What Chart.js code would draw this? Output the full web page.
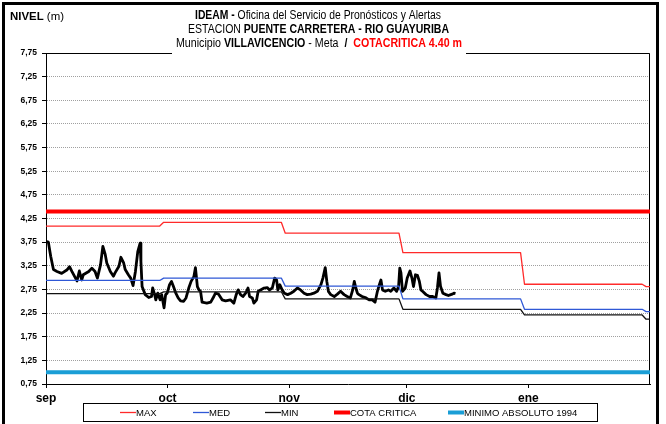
<!DOCTYPE html>
<html>
<head>
<meta charset="utf-8">
<script src="https://cdn.jsdelivr.net/npm/chart.js@4.4.1/dist/chart.umd.min.js"></script>
<style>
  html, body { margin: 0; padding: 0; background: #fff; }
  canvas { display: block; }
</style>
</head>
<body>
<canvas id="nivel" width="666" height="424"></canvas>
<script>
// eje x en dias contados desde el 1 de septiembre
const mesLabels = ['sep', 'oct', 'nov', 'dic', 'ene'];
const mesTicks = [0, 31, 62, 92, 123];
const diaFin = 154;

// eje y (m)
const nivelTicks = [0.75, 1.25, 1.75, 2.25, 2.75, 3.25, 3.75, 4.25, 4.75, 5.25, 5.75, 6.25, 6.75, 7.25, 7.75];

// valores historicos mensuales (sep..feb), cada uno vale desde mesInicio
const mesInicio = [0, 30, 61, 91, 122, 153];
const nivelMax = [4.09, 4.17, 3.94, 3.53, 2.86, 2.81];
const nivelMed = [2.94, 2.99, 2.82, 2.55, 2.33, 2.28];
const nivelMin = [2.66, 2.70, 2.55, 2.33, 2.21, 2.12];
const cotaCritica = 4.40;
const minimoAbsoluto = 1.00;

// lecturas de nivel [dia, m]
const lecturas = [
  [0.2, 3.76], [0.6, 3.75], [1.2, 3.45], [1.9, 3.17], [2.8, 3.13], [4.0, 3.09], [5.3, 3.16], [6.0, 3.23],
  [6.6, 3.13], [7.9, 2.93], [8.5, 3.14], [9.1, 2.95], [9.5, 3.06], [10.9, 3.13], [11.7, 3.20], [12.5, 3.13],
  [13.1, 2.99], [13.9, 3.27], [14.5, 3.66], [15.1, 3.49], [15.5, 3.31], [16.4, 3.13], [17.2, 3.03], [17.6, 3.10],
  [18.6, 3.24], [19.1, 3.43], [19.8, 3.31], [20.2, 3.17], [21.0, 3.06], [21.6, 2.99], [22.2, 2.83], [22.8, 3.13],
  [23.4, 3.55], [24.0, 3.73], [24.2, 3.34], [24.5, 2.81], [25.3, 2.64], [26.2, 2.58], [26.9, 2.60], [27.2, 2.78],
  [27.7, 2.64], [28.0, 2.53], [28.5, 2.67], [29.1, 2.53], [29.5, 2.64], [30.1, 2.36], [30.5, 2.64], [30.9, 2.67],
  [31.5, 2.85], [32.0, 2.92], [32.5, 2.81], [33.1, 2.67], [33.7, 2.57], [34.3, 2.51], [35.1, 2.50], [35.7, 2.57],
  [36.4, 2.78], [37.0, 2.92], [37.7, 3.02], [38.1, 3.21], [38.6, 2.81], [39.0, 2.74], [39.4, 2.71], [39.8, 2.48],
  [41.0, 2.46], [42.0, 2.48], [42.8, 2.60], [43.2, 2.67], [44.0, 2.65], [44.9, 2.53], [45.8, 2.51], [47.0, 2.53],
  [47.9, 2.46], [48.5, 2.64], [49.0, 2.74], [49.6, 2.64], [50.2, 2.60], [50.9, 2.67], [51.5, 2.78], [51.9, 2.60],
  [52.6, 2.57], [53.0, 2.46], [53.7, 2.53], [54.1, 2.71], [54.7, 2.74], [55.6, 2.78], [56.4, 2.79], [57.0, 2.74],
  [57.7, 2.78], [58.3, 2.99], [58.8, 2.95], [59.1, 2.74], [59.6, 2.85], [60.2, 2.74], [60.8, 2.67], [61.6, 2.64],
  [62.4, 2.67], [63.2, 2.71], [64.1, 2.78], [64.9, 2.74], [65.8, 2.67], [66.6, 2.64], [67.5, 2.65], [68.3, 2.67],
  [69.2, 2.71], [70.1, 2.85], [70.6, 2.99], [71.2, 3.21], [71.6, 2.92], [72.0, 2.71], [72.6, 2.64], [73.5, 2.60],
  [74.3, 2.65], [75.1, 2.71], [76.0, 2.64], [76.8, 2.60], [77.6, 2.57], [78.2, 2.74], [78.6, 2.92], [79.0, 2.78],
  [79.4, 2.67], [79.8, 2.64], [80.6, 2.60], [81.6, 2.57], [82.4, 2.53], [83.2, 2.53], [83.9, 2.48], [84.5, 2.71],
  [85.0, 2.85], [85.4, 2.95], [85.8, 2.74], [86.5, 2.71], [87.3, 2.74], [87.9, 2.71], [88.7, 2.78], [89.4, 2.71],
  [89.9, 2.81], [90.2, 3.20], [90.5, 3.10], [90.9, 2.71], [91.6, 2.78], [92.1, 2.99], [92.8, 3.14], [93.3, 2.99],
  [93.7, 2.81], [94.2, 3.06], [94.7, 3.05], [95.2, 2.92], [95.6, 2.74], [96.0, 2.71], [96.9, 2.64], [97.8, 2.60],
  [98.6, 2.60], [99.4, 2.57], [99.8, 2.78], [100.2, 3.10], [100.6, 2.81], [101.2, 2.67], [102.0, 2.64], [102.6, 2.62],
  [103.2, 2.64], [103.6, 2.65], [104.0, 2.67], [104.4, 2.66]
];

const FUENTE = "'Liberation Sans', Arial, sans-serif";
const ANGOSTA = "'Liberation Sans Narrow', 'Arial Narrow', 'Liberation Sans', Arial, sans-serif";

// escalones: el valor del mes se mantiene hasta el dia anterior al mes siguiente
function escalones(vals) {
  const pts = [];
  vals.forEach((v, i) => {
    const fin = i < vals.length - 1 ? mesInicio[i + 1] - 1 : diaFin;
    pts.push({ x: mesInicio[i], y: v }, { x: fin, y: v });
  });
  return pts;
}

function constante(v) {
  return [{ x: 0, y: v }, { x: diaFin, y: v }];
}

function serie(label, data, color, ancho) {
  return { label, data, borderColor: color, backgroundColor: color, borderWidth: ancho,
           pointRadius: 0, tension: 0, fill: false };
}

// texto con tramos en negrita o color, ajustado a un ancho fijo
function lineaTexto(ctx, partes, x0, cy, ancho, size) {
  ctx.save();
  let total = 0;
  partes.forEach(p => {
    ctx.font = (p.b ? 'bold ' : '') + size + 'px ' + ANGOSTA;
    p.w = ctx.measureText(p.t).width;
    total += p.w;
  });
  ctx.translate(x0, cy);
  ctx.scale(ancho / total, 1);
  ctx.textBaseline = 'middle';
  ctx.textAlign = 'left';
  let x = 0;
  partes.forEach(p => {
    ctx.font = (p.b ? 'bold ' : '') + size + 'px ' + ANGOSTA;
    ctx.fillStyle = p.c || '#000';
    ctx.fillText(p.t, x, 0);
    x += p.w;
  });
  ctx.restore();
}

const marco = {
  id: 'marco',
  beforeDatasetsDraw(chart) {
    const { ctx, chartArea: a } = chart;
    ctx.save();
    ctx.strokeStyle = '#000';
    ctx.lineWidth = 1;
    ctx.beginPath();
    ctx.moveTo(a.left, a.top + 0.5);
    ctx.lineTo(a.right - 0.5, a.top + 0.5);
    ctx.lineTo(a.right - 0.5, a.bottom);
    ctx.stroke();
    ctx.restore();
  },
  afterDraw(chart) {
    const ctx = chart.ctx;
    ctx.save();
    // borde exterior
    ctx.fillStyle = '#000';
    ctx.fillRect(2, 2, 3, 422);
    ctx.fillRect(2, 2, 657, 3);
    ctx.fillRect(656, 2, 3, 422);

    // titulo
    ctx.fillStyle = '#fff';
    ctx.fillRect(172, 36, 294, 20);
    lineaTexto(ctx, [{ t: 'NIVEL', b: true }, { t: ' (m)' }], 10, 17, 54, 10);
    lineaTexto(ctx, [{ t: 'IDEAM -', b: true }, { t: ' Oficina del Servicio de Pronósticos y Alertas' }], 195, 16, 246, 12);
    lineaTexto(ctx, [{ t: 'ESTACION ' }, { t: 'PUENTE CARRETERA - RIO GUAYURIBA', b: true }], 188, 29.5, 261, 12);
    lineaTexto(ctx, [{ t: 'Municipio ' }, { t: 'VILLAVICENCIO', b: true }, { t: ' - Meta  ' },
                     { t: '/  ', b: true }, { t: 'COTACRITICA 4.40 m', b: true, c: '#ff0000' }], 176, 44, 286, 12);

    // leyenda
    ctx.strokeStyle = '#000';
    ctx.lineWidth = 1;
    ctx.strokeRect(83.5, 403.5, 514, 18);
    const pos = [
      { ds: 2, x: 120 }, { ds: 3, x: 193 }, { ds: 4, x: 265 }, { ds: 1, x: 334 }, { ds: 0, x: 448 }
    ];
    pos.forEach(p => {
      const d = chart.data.datasets[p.ds];
      ctx.strokeStyle = d.borderColor;
      ctx.lineWidth = d.borderWidth;
      ctx.beginPath();
      ctx.moveTo(p.x, 412.5);
      ctx.lineTo(p.x + 16, 412.5);
      ctx.stroke();
      ctx.fillStyle = '#000';
      ctx.font = '9.5px ' + ANGOSTA;
      ctx.textBaseline = 'middle';
      ctx.fillText(d.label, p.x + 16, 413);
    });
    ctx.restore();
  }
};

new Chart(document.getElementById('nivel'), {
  type: 'line',
  data: {
    datasets: [
      serie('MINIMO ABSOLUTO 1994', constante(minimoAbsoluto), '#1a9ed6', 4),
      serie('COTA CRITICA', constante(cotaCritica), '#ff0000', 4),
      serie('MAX', escalones(nivelMax), '#ff2a2a', 1.3),
      serie('MED', escalones(nivelMed), '#2f58d6', 1.3),
      serie('MIN', escalones(nivelMin), '#111111', 1.3),
      serie('NIVEL', lecturas.map(([d, v]) => ({ x: d, y: v })), '#000000', 2.8)
    ]
  },
  options: {
    responsive: false,
    devicePixelRatio: 1,
    animation: false,
    layout: { padding: { left: 0, top: 53, right: 16, bottom: 0 } },
    plugins: { legend: { display: false }, title: { display: false }, tooltip: { enabled: false } },
    elements: { line: { borderJoinStyle: 'round', borderCapStyle: 'butt' } },
    scales: {
      x: {
        type: 'linear', min: 0, max: diaFin,
        afterBuildTicks: s => { s.ticks = mesTicks.map(v => ({ value: v })); },
        afterFit: s => { s.height = 40; },
        ticks: {
          callback: v => mesLabels[mesTicks.indexOf(v)],
          font: { family: FUENTE, size: 12, weight: 'bold' }, color: '#000',
          maxRotation: 0, autoSkip: false, padding: 3
        },
        grid: { drawOnChartArea: false, tickLength: 4, tickColor: '#000' },
        border: { color: '#000', width: 1 }
      },
      y: {
        min: 0.75, max: 7.75,
        afterBuildTicks: s => { s.ticks = nivelTicks.map(v => ({ value: v })); },
        afterFit: s => { s.width = 46; },
        ticks: {
          callback: v => v.toFixed(2).replace('.', ','),
          font: { family: FUENTE, size: 8.5, weight: 'bold' }, color: '#000',
          autoSkip: false, padding: 5
        },
        grid: { color: '#a0a0a0', lineWidth: 1, tickLength: 4, tickColor: '#000', tickBorderDash: [] },
        border: { color: '#000', width: 1, dash: [1, 1] }
      }
    }
  },
  plugins: [marco]
});
</script>
</body>
</html>
